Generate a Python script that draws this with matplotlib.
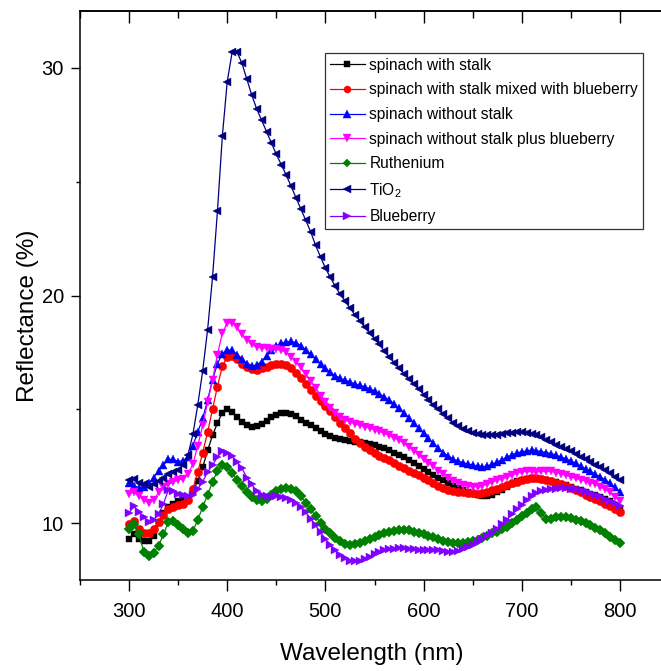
import numpy as np
import matplotlib
matplotlib.use("Agg")
import matplotlib.pyplot as plt
from matplotlib.ticker import MultipleLocator

plt.rcParams['font.family'] = ['Liberation Sans', 'DejaVu Sans']
plt.rcParams['mathtext.fontset'] = 'custom'
plt.rcParams['mathtext.rm'] = 'Liberation Sans'

wavelength = np.arange(300, 805, 5)

spinach_stalk = [
    9.3, 9.5, 9.3, 9.2, 9.2, 9.45, 10.0, 10.45, 10.7, 10.85,
    10.95, 11.0, 11.1, 11.4, 11.85, 12.45, 13.2, 13.85, 14.4, 14.85,
    15.0, 14.9, 14.65, 14.45, 14.3, 14.22, 14.25, 14.35, 14.5, 14.65,
    14.75, 14.82, 14.85, 14.8, 14.7, 14.55, 14.42, 14.3, 14.18, 14.05,
    13.92, 13.82, 13.75, 13.7, 13.66, 13.62, 13.58, 13.55, 13.5, 13.46,
    13.42, 13.35, 13.28, 13.2, 13.1, 13.0, 12.9, 12.78, 12.65, 12.52,
    12.38, 12.25, 12.12, 12.0, 11.88, 11.76, 11.65, 11.55, 11.45, 11.35,
    11.28, 11.24, 11.2, 11.2, 11.25, 11.35, 11.45, 11.6, 11.72, 11.83,
    11.9, 11.95, 11.97, 11.95, 11.92, 11.88, 11.84, 11.8, 11.73, 11.66,
    11.6, 11.52, 11.45, 11.38, 11.3, 11.22, 11.15, 11.05, 10.95, 10.8,
    10.65]

spinach_stalk_blueberry = [
    9.95, 10.1, 9.75, 9.55, 9.55, 9.75, 10.05, 10.35, 10.6, 10.72,
    10.8, 10.82, 11.0, 11.5, 12.25, 13.1, 14.0, 15.0, 16.0, 16.9,
    17.3, 17.35, 17.2, 17.0, 16.85, 16.75, 16.72, 16.8, 16.88, 16.95,
    17.0, 17.0, 16.95, 16.8, 16.6, 16.38, 16.1, 15.85, 15.6, 15.38,
    15.15, 14.93, 14.68, 14.42, 14.17, 13.94, 13.7, 13.5, 13.33, 13.2,
    13.08, 12.97, 12.87, 12.77, 12.65, 12.52, 12.4, 12.3, 12.2, 12.1,
    12.0, 11.88, 11.77, 11.65, 11.55, 11.47, 11.4, 11.37, 11.35, 11.33,
    11.32, 11.3, 11.32, 11.37, 11.45, 11.52, 11.6, 11.68, 11.75, 11.82,
    11.88, 11.93, 11.96, 11.97, 11.95, 11.9, 11.85, 11.78, 11.7, 11.62,
    11.55, 11.45, 11.35, 11.25, 11.15, 11.05, 10.95, 10.85, 10.73, 10.6,
    10.5]

spinach_nostalk = [
    11.75, 11.65, 11.55, 11.6, 11.75, 12.0, 12.3, 12.55, 12.8, 12.8,
    12.7, 12.75, 12.9, 13.4, 14.0, 14.6, 15.4, 16.3, 17.0, 17.45,
    17.6, 17.6, 17.4, 17.2, 17.0, 16.9, 16.95, 17.1, 17.35, 17.6,
    17.8, 17.9, 17.95, 17.98, 17.92, 17.8, 17.62, 17.42, 17.2, 16.98,
    16.8, 16.62, 16.48, 16.36, 16.27, 16.2, 16.12, 16.05, 15.98, 15.9,
    15.8, 15.68, 15.55, 15.4, 15.25, 15.05, 14.85, 14.62, 14.4, 14.18,
    13.95, 13.72, 13.5, 13.3, 13.1, 12.95, 12.82, 12.72, 12.65, 12.6,
    12.55, 12.5, 12.48, 12.5, 12.58, 12.68, 12.78, 12.9, 13.0, 13.08,
    13.13, 13.17, 13.2, 13.18, 13.14, 13.1, 13.05, 12.98, 12.9, 12.82,
    12.73, 12.62, 12.5, 12.38, 12.27, 12.15, 12.03, 11.9, 11.75, 11.57,
    11.38]

spinach_nostalk_blueberry = [
    11.3, 11.35, 11.2, 11.0, 10.9, 11.0, 11.35, 11.6, 11.7, 11.8,
    11.9, 11.95, 12.15, 12.6, 13.4, 14.3, 15.3, 16.3, 17.4, 18.35,
    18.8, 18.8, 18.6, 18.3, 18.05, 17.85, 17.75, 17.7, 17.68, 17.67,
    17.65, 17.6, 17.5, 17.3, 17.1, 16.85, 16.55, 16.25, 15.95, 15.6,
    15.3, 15.05, 14.85, 14.68, 14.55, 14.45, 14.37, 14.3, 14.24, 14.17,
    14.1, 14.03, 13.95, 13.85, 13.75, 13.65, 13.5, 13.35, 13.18, 13.0,
    12.8, 12.65, 12.5, 12.3, 12.15, 12.0, 11.87, 11.77, 11.68, 11.62,
    11.6, 11.6, 11.65, 11.72, 11.8, 11.88, 11.95, 12.02, 12.1, 12.2,
    12.25, 12.27, 12.27, 12.25, 12.27, 12.28, 12.27, 12.22, 12.17, 12.1,
    12.03, 11.97, 11.9, 11.85, 11.78, 11.7, 11.6, 11.48, 11.35, 11.15,
    10.95]

ruthenium = [
    9.75, 9.95, 9.5, 8.75, 8.55, 8.7, 9.0, 9.5, 10.05, 10.1,
    9.92, 9.72, 9.55, 9.65, 10.15, 10.7, 11.25, 11.8, 12.3, 12.55,
    12.45, 12.2, 11.9, 11.65, 11.38, 11.15, 11.0, 10.95, 11.08, 11.25,
    11.4, 11.5, 11.55, 11.52, 11.4, 11.2, 10.9, 10.6, 10.3, 10.0,
    9.75, 9.55, 9.35, 9.2, 9.1, 9.05, 9.07, 9.12, 9.2, 9.28,
    9.38, 9.48, 9.57, 9.63, 9.67, 9.7, 9.7, 9.68, 9.63, 9.57,
    9.5, 9.45, 9.38, 9.3, 9.22, 9.17, 9.13, 9.12, 9.13, 9.17,
    9.22, 9.27, 9.35, 9.45, 9.55, 9.63, 9.72, 9.85, 10.0, 10.15,
    10.3, 10.45, 10.6, 10.72, 10.45, 10.2, 10.18, 10.25, 10.28, 10.25,
    10.22, 10.15, 10.1, 10.0, 9.9, 9.8, 9.7, 9.55, 9.4, 9.25,
    9.12]

tio2 = [
    11.9, 11.95, 11.75, 11.7, 11.6, 11.7, 11.85, 12.0, 12.15, 12.25,
    12.35, 12.55, 13.0, 13.9, 15.2, 16.7, 18.5, 20.8, 23.7, 27.0,
    29.4, 30.7, 30.7, 30.2, 29.5, 28.8, 28.2, 27.7, 27.2, 26.7,
    26.2, 25.75, 25.3, 24.8, 24.3, 23.8, 23.3, 22.8, 22.2, 21.7,
    21.2, 20.8, 20.4, 20.05, 19.75, 19.45, 19.15, 18.9, 18.6, 18.35,
    18.1, 17.85, 17.55, 17.3, 17.05, 16.8, 16.55, 16.35, 16.1, 15.9,
    15.65, 15.42, 15.2, 15.0, 14.8, 14.6, 14.42, 14.28, 14.15, 14.05,
    13.97, 13.9, 13.86, 13.85, 13.85, 13.87, 13.9, 13.95, 13.98, 14.0,
    14.0, 13.97, 13.92, 13.85, 13.77, 13.67, 13.56, 13.45, 13.35, 13.25,
    13.15, 13.03, 12.9, 12.8, 12.68, 12.56, 12.45, 12.32, 12.18, 12.03,
    11.88]

blueberry = [
    10.45, 10.75, 10.5, 10.25, 10.05, 10.12, 10.4, 10.85, 11.45, 11.42,
    11.3, 11.22, 11.17, 11.25, 11.5, 11.82, 12.25, 12.55, 12.9, 13.15,
    13.1, 12.95, 12.7, 12.4, 12.0, 11.7, 11.4, 11.25, 11.17, 11.15,
    11.17, 11.15, 11.1, 11.0, 10.9, 10.7, 10.47, 10.2, 9.9, 9.6,
    9.3, 9.05, 8.8, 8.6, 8.45, 8.35, 8.32, 8.35, 8.42, 8.52,
    8.63, 8.72, 8.8, 8.85, 8.88, 8.9, 8.9, 8.88, 8.85, 8.83,
    8.83, 8.83, 8.82, 8.8, 8.78, 8.75, 8.75, 8.78, 8.85, 8.95,
    9.05, 9.15, 9.28, 9.42, 9.58, 9.75, 9.95, 10.15, 10.38, 10.6,
    10.8, 11.0, 11.2, 11.32, 11.4, 11.45, 11.5, 11.52, 11.53, 11.53,
    11.52, 11.5, 11.45, 11.4, 11.32, 11.25, 11.17, 11.08, 10.98, 10.87,
    10.73]

series = [
    ("spinach with stalk", spinach_stalk, "#000000", "s"),
    ("spinach with stalk mixed with blueberry", spinach_stalk_blueberry, "#ff0000", "o"),
    ("spinach without stalk", spinach_nostalk, "#0000ff", "^"),
    ("spinach without stalk plus blueberry", spinach_nostalk_blueberry, "#ff00ff", "v"),
    ("Ruthenium", ruthenium, "#008000", "D"),
    ("TiO$_2$", tio2, "#000080", "<"),
    ("Blueberry", blueberry, "#8000ff", ">"),
]

fig = plt.figure(figsize=(6.61, 6.71), dpi=100)
ax = fig.add_axes([80/661, 91/671, 589/661, 569/671])

for label, vals, col, mk in series:
    ms = 6.0 if mk not in ("D", "s") else 4.8
    ax.plot(wavelength, vals, color=col, marker=mk, markersize=ms, lw=0.9,
            markeredgewidth=0.3, markeredgecolor=col, label=label)

ax.set_xlim(250, 850)
ax.set_ylim(7.5, 32.5)
ax.xaxis.set_major_locator(MultipleLocator(100))
ax.xaxis.set_minor_locator(MultipleLocator(50))
ax.yaxis.set_major_locator(MultipleLocator(10))
ax.yaxis.set_minor_locator(MultipleLocator(5))

for s in ax.spines.values():
    s.set_linewidth(1.1)
ax.spines['right'].set_visible(False)

ax.tick_params(axis='x', which='major', direction='out', length=8, width=1.0,
               labelsize=14.5, pad=8, top=False)
ax.tick_params(axis='x', which='minor', direction='out', length=3.6, width=1.0, top=False)
ax.tick_params(axis='y', which='major', direction='out', length=6.5, width=1.0,
               labelsize=14.5, pad=5)
ax.tick_params(axis='y', which='minor', direction='out', length=3.0, width=1.0)

# top axis ticks pointing inward
sec = ax.secondary_xaxis('top')
sec.xaxis.set_major_locator(MultipleLocator(100))
sec.xaxis.set_minor_locator(MultipleLocator(50))
sec.tick_params(axis='x', which='major', direction='in', length=8.5, width=1.0, labeltop=False)
sec.tick_params(axis='x', which='minor', direction='in', length=5, width=1.0, labeltop=False)
sec.spines['top'].set_linewidth(1.1)

fig.text(372/661, 1 - 654/671, "Wavelength (nm)", fontsize=17.5, ha='center', va='center')
fig.text(28/661, 1 - 316/671, "Reflectance (%)", fontsize=17.5, ha='center', va='center',
         rotation=90)

leg = ax.legend(loc='upper left', bbox_to_anchor=(325/661, 1 - 53/671),
                bbox_transform=fig.transFigure, fontsize=11.2, frameon=True,
                fancybox=False, edgecolor='black', borderpad=0.3, borderaxespad=0,
                handlelength=2.25, handletextpad=0.3, labelspacing=0.62,
                markerscale=0.85)
leg.get_frame().set_linewidth(0.9)

fig.savefig("out.png", dpi=100)
